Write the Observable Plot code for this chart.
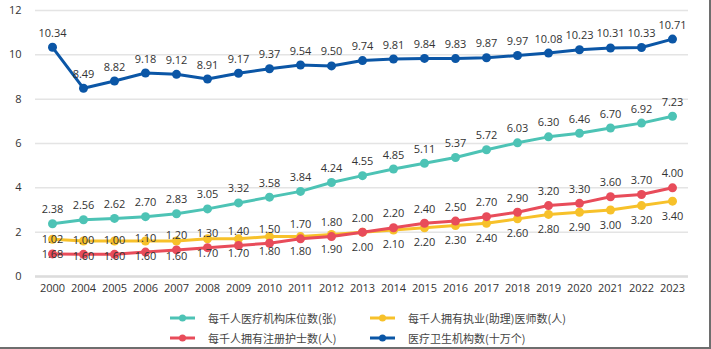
<!DOCTYPE html>
<html>
<head>
<meta charset="utf-8">
<script src="https://cdn.jsdelivr.net/npm/d3@7"></script>
<script src="https://cdn.jsdelivr.net/npm/@observablehq/plot@0.6"></script>
<style>
  html, body { margin: 0; padding: 0; background: #fff; }
  #frame { position: relative; width: 709px; height: 347px; border-right: 2px solid #6e6e6e; border-bottom: 2px solid #6e6e6e; overflow: hidden; font-family: "Open Sans", "Noto Sans", "Noto Sans CJK SC", sans-serif; }
  #chart { position: absolute; left: 0; top: 0; }
  .leg { position: absolute; display: flex; align-items: center; font-family: "Noto Sans CJK SC", "Noto Sans", sans-serif; font-size: 11px; color: #444; white-space: nowrap; }
  .leg svg { margin-right: 13px; }
</style>
</head>
<body>
<div id="frame">
  <div id="chart"></div>
</div>
<script>
const years = ["2000","2004","2005","2006","2007","2008","2009","2010","2011","2012","2013","2014","2015","2016","2017","2018","2019","2020","2021","2022","2023"];
const beds = [2.38,2.56,2.62,2.70,2.83,3.05,3.32,3.58,3.84,4.24,4.55,4.85,5.11,5.37,5.72,6.03,6.30,6.46,6.70,6.92,7.23];
const doctors = [1.68,1.60,1.60,1.60,1.60,1.70,1.70,1.80,1.80,1.90,2.00,2.10,2.20,2.30,2.40,2.60,2.80,2.90,3.00,3.20,3.40];
const nurses = [1.02,1.00,1.00,1.10,1.20,1.30,1.40,1.50,1.70,1.80,2.00,2.20,2.40,2.50,2.70,2.90,3.20,3.30,3.60,3.70,4.00];
const institutions = [10.34,8.49,8.82,9.18,9.12,8.91,9.17,9.37,9.54,9.50,9.74,9.81,9.84,9.83,9.87,9.97,10.08,10.23,10.31,10.33,10.71];
const seriesNames = ["每千人医疗机构床位数(张)","每千人拥有执业(助理)医师数(人)","每千人拥有注册护士数(人)","医疗卫生机构数(十万个)"];
const seriesColors = ["#4dc3b5","#f7c12a","#e84c5a","#0b56a6"];
const yTicks = [0,2,4,6,8,10,12];

const seriesValues = [beds, doctors, nurses, institutions];
const labelDy = [-14, 15, -14, -14];
const fmt = d3.format(".2f");

const marks = [
  Plot.ruleY(yTicks, {stroke: "#e4e4e4", strokeWidth: 1.5}),
  Plot.ruleY([0], {stroke: "#dcdcdc", strokeWidth: 2.5}),
  Plot.axisX({tickSize: 0, tickPadding: 8, fontSize: 11, color: "#333"}),
  Plot.axisY({ticks: yTicks, tickSize: 0, tickPadding: 14, fontSize: 11, color: "#333", label: null})
];
seriesValues.forEach((vals, i) => {
  const data = years.map((y, j) => ({year: y, value: vals[j]}));
  marks.push(Plot.line(data, {x: "year", y: "value", stroke: seriesColors[i], strokeWidth: 3}));
  marks.push(Plot.dot(data, {x: "year", y: "value", fill: seriesColors[i], r: 4.5}));
});
seriesValues.forEach((vals, i) => {
  const data = years.map((y, j) => ({year: y, value: vals[j]}));
  marks.push(Plot.text(data, {x: "year", y: "value", text: d => fmt(d.value), dy: labelDy[i], fill: "#333", fontSize: 11}));
});

const chart = Plot.plot({
  width: 707,
  height: 300,
  marginTop: 10,
  marginBottom: 24,
  marginLeft: 35,
  marginRight: 19,
  style: {fontFamily: "'Open Sans', 'Noto Sans', sans-serif", background: "transparent"},
  x: {type: "point", domain: years, padding: 0.5, label: null},
  y: {domain: [0, 12], label: null},
  marks
});
document.getElementById("chart").appendChild(chart);

const legendPos = [[170, 318], [370, 318], [170, 338], [370, 338]];
const legendOrder = [0, 1, 2, 3];
const frame = document.getElementById("frame");
legendOrder.forEach((si, k) => {
  const [lx, ly] = legendPos[k];
  const div = document.createElement("div");
  div.className = "leg";
  div.style.left = lx + "px";
  div.style.top = (ly - 8) + "px";
  div.style.height = "16px";
  div.innerHTML = `<svg width="25" height="10"><line x1="0" y1="5" x2="25" y2="5" stroke="${seriesColors[si]}" stroke-width="3"/><circle cx="12.5" cy="5" r="3.5" fill="${seriesColors[si]}"/></svg><span>${seriesNames[si]}</span>`;
  frame.appendChild(div);
});
</script>
</body>
</html>
